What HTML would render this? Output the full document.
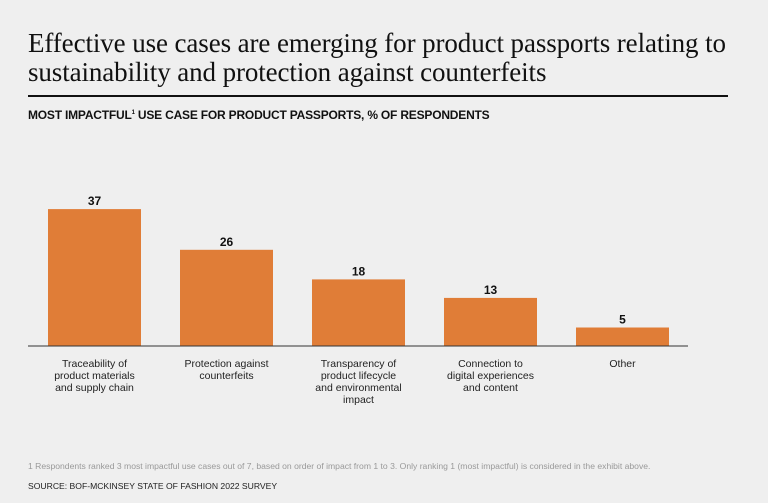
<!DOCTYPE html>
<html><head><meta charset="utf-8"><style>
body{margin:0;width:768px;height:503px;background:#efefef;font-family:"Liberation Sans",sans-serif;position:relative;overflow:hidden}
#title{position:absolute;left:28px;top:29px;font-family:"Liberation Serif",serif;font-size:27px;line-height:29px;color:#111;letter-spacing:-0.1px;margin:0;font-weight:normal;white-space:nowrap}
#rule{position:absolute;left:28px;top:95px;width:700px;height:2px;background:#111}
#sub{position:absolute;left:28px;top:108px;font-size:12px;font-weight:bold;color:#111;letter-spacing:-0.2px}
#foot{position:absolute;left:28px;top:461px;font-size:8.6px;color:#999}
#src{position:absolute;left:28px;top:481px;font-size:8.6px;color:#222}
svg{position:absolute;left:0;top:0}
</style></head><body>
<h1 id="title">Effective use cases are emerging for product passports relating to<br>sustainability and protection against counterfeits</h1>
<div id="rule"></div>
<div id="sub">MOST IMPACTFUL<sup style="font-size:6px">1</sup> USE CASE FOR PRODUCT PASSPORTS, % OF RESPONDENTS</div>
<svg id="chart" width="768" height="503"></svg>
<div id="foot">1 Respondents ranked 3 most impactful use cases out of 7, based on order of impact from 1 to 3. Only ranking 1 (most impactful) is considered in the exhibit above.</div>
<div id="src">SOURCE: BOF-MCKINSEY STATE OF FASHION 2022 SURVEY</div>
<script>
const categories=[["Traceability of","product materials","and supply chain"],["Protection against","counterfeits"],["Transparency of","product lifecycle","and environmental","impact"],["Connection to","digital experiences","and content"],["Other"]];
const values=[37,26,18,13,5];
const svg=document.getElementById('chart');
const NS='http://www.w3.org/2000/svg';
const base=346,unit=3.7,x0=48,step=132,bw=93;
const y=v=>base-v*unit;
const x=i=>x0+i*step;
function mk(t,a){const e=document.createElementNS(NS,t);for(const k in a)e.setAttribute(k,a[k]);svg.appendChild(e);return e;}
values.forEach((v,i)=>{
 const r=mk('rect',{x:x(i),y:y(v),width:bw,height:base-y(v),fill:'#e07d37'});
 
 
 const t=mk('text',{x:x(i)+bw/2,y:y(v)-4,'text-anchor':'middle','font-size':'12','font-weight':'bold',fill:'#111','font-family':'Liberation Sans'});
 t.textContent=v;
 
 
 const g=mk('text',{'text-anchor':'middle','font-size':'10.5',fill:'#222','font-family':'Liberation Sans'});
 
 
 categories[i].forEach((l,j)=>{const s=document.createElementNS(NS,'tspan');s.setAttribute('x',x(i)+bw/2);s.setAttribute('y',base+21+j*12);s.textContent=l;g.appendChild(s);});
});
const ax=mk('line',{x1:28,x2:688,y1:base,y2:base,stroke:'#333','stroke-width':1});


</script>
</body></html>
